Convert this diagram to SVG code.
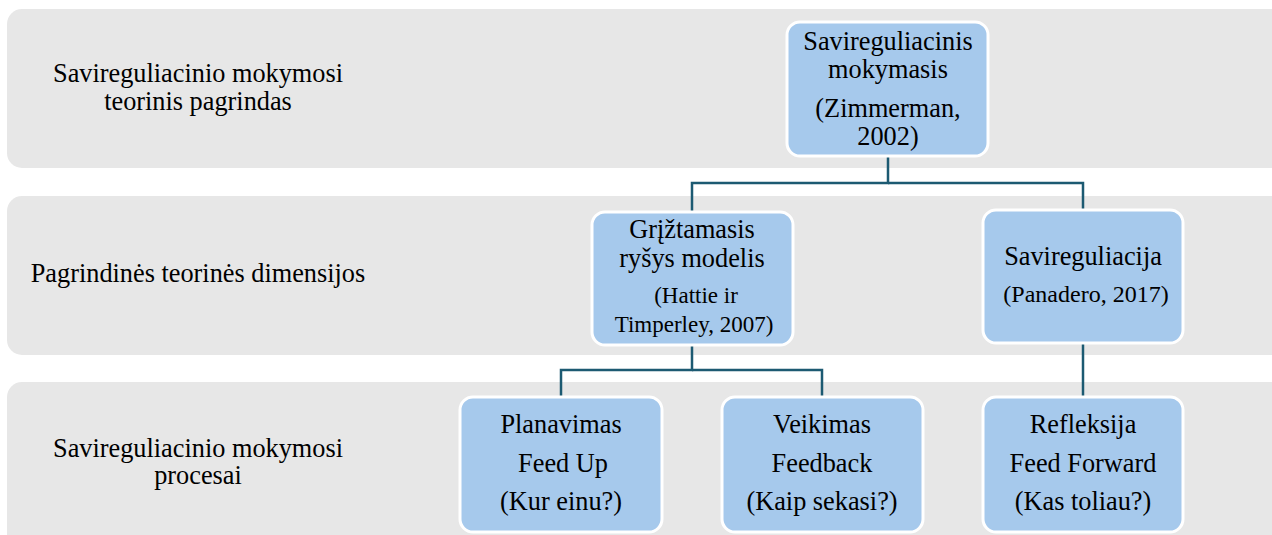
<svg xmlns="http://www.w3.org/2000/svg" width="1272" height="535" viewBox="0 0 1272 535">
<style>
.band{fill:#E7E7E7;}
.node{fill:#A6C9EC;stroke:#FFFFFF;stroke-width:3;}
text{font-family:'Liberation Serif','Times New Roman',serif;font-size:26.3px;fill:#000;text-anchor:middle;}
.c{font-size:23px;}
.p{font-size:24px;}
.conn{fill:none;stroke:#1C5A72;stroke-width:2.5;}
</style>
<rect width="1272" height="535" fill="#FFFFFF"/>
<g id="bands">
<rect class="band" x="7" y="9" width="1280" height="159" rx="15"/>
<rect class="band" x="7" y="196" width="1280" height="159" rx="15"/>
<rect class="band" x="7" y="382" width="1280" height="170" rx="15"/>
</g>
<g id="labels">
<text x="198" y="82">Savireguliacinio mokymosi</text>
<text x="198" y="110">teorinis pagrindas</text>
<text x="198" y="282">Pagrindinės teorinės dimensijos</text>
<text x="198" y="457">Savireguliacinio mokymosi</text>
<text x="198" y="484">procesai</text>
</g>
<g id="connectors">
<path class="conn" d="M888,156 V183 H692 V212"/>
<path class="conn" d="M888,183 H1083 V210"/>
<path class="conn" d="M692,345 V370 H561 V397"/>
<path class="conn" d="M692,370 H822 V397"/>
<path class="conn" d="M1083,343 V397"/>
</g>
<g id="node-zimmerman">
<rect class="node" x="787" y="22" width="201" height="134" rx="13"/>
<text x="888" y="50">Savireguliacinis</text>
<text x="888" y="78">mokymasis</text>
<text x="888" y="117">(Zimmerman,</text>
<text x="888" y="145">2002)</text>
</g>
<g id="node-hattie">
<rect class="node" x="592" y="212" width="201" height="133" rx="13"/>
<text x="692" y="238">Grįžtamasis</text>
<text x="692" y="267">ryšys modelis</text>
<text class="c" x="696" y="303">(Hattie ir</text>
<text class="c" x="694" y="332">Timperley, 2007)</text>
</g>
<g id="node-panadero">
<rect class="node" x="983" y="210" width="200" height="133" rx="13"/>
<text x="1083" y="265">Savireguliacija</text>
<text class="p" x="1086" y="302">(Panadero, 2017)</text>
</g>
<g id="node-planavimas">
<rect class="node" x="460" y="397" width="202" height="135" rx="13"/>
<text x="561" y="433">Planavimas</text>
<text x="563" y="472">Feed Up</text>
<text x="561" y="510">(Kur einu?)</text>
</g>
<g id="node-veikimas">
<rect class="node" x="722" y="397" width="201" height="135" rx="13"/>
<text x="822" y="433">Veikimas</text>
<text x="822" y="472">Feedback</text>
<text x="822" y="510">(Kaip sekasi?)</text>
</g>
<g id="node-refleksija">
<rect class="node" x="983" y="397" width="200" height="135" rx="13"/>
<text x="1083" y="433">Refleksija</text>
<text x="1083" y="472">Feed Forward</text>
<text x="1083" y="510">(Kas toliau?)</text>
</g>
</svg>
